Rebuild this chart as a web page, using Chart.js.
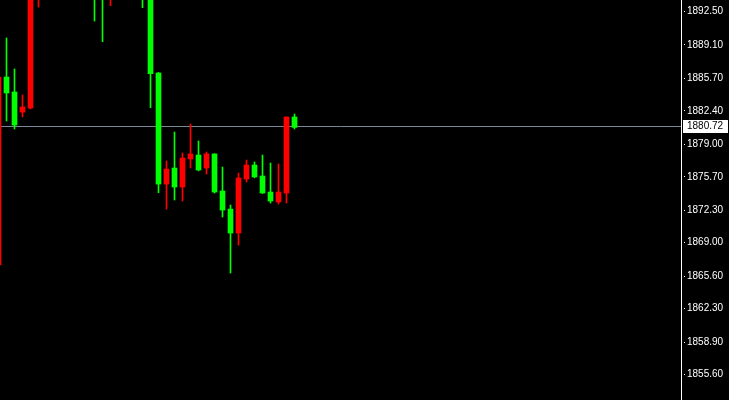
<!DOCTYPE html>
<html>
<head>
<meta charset="utf-8">
<script src="https://cdn.jsdelivr.net/npm/chart.js@4.4.1/dist/chart.umd.min.js"></script>
<style>
  html, body { margin: 0; padding: 0; background: #000; }
  #wrap { width: 729px; height: 400px; position: relative; }
</style>
</head>
<body>
<div id="wrap"><canvas id="candles"></canvas></div>
<script>
// bar index (slot) of each candle, OHLC; candles fully off screen are left out
const slots  = [-1, 0, 1, 2, 3, 4, 11, 12, 13, 17, 18, 19, 20, 21, 22, 23, 24, 25, 26, 27, 28, 29, 30, 31, 32, 33, 34, 35, 36];
const opens  = [1866.73, 1885.84, 1884.32, 1882.28, 1882.69, 1894.2, 1896.0, 1896.0, 1894.2, 1896.0, 1895.5, 1886.25,
                1874.96, 1876.59, 1874.66, 1877.51, 1877.91, 1876.59, 1878.02, 1874.25, 1872.42, 1869.98, 1875.47,
                1876.90, 1875.78, 1874.15, 1873.14, 1874.05, 1881.78];
const highs  = [1885.84, 1889.81, 1886.66, 1884.01, 1896.0, 1897.0, 1897.0, 1897.0, 1897.0, 1897.0, 1896.0, 1886.30,
                1877.30, 1880.25, 1878.12, 1881.06, 1879.34, 1878.22, 1878.05, 1876.69, 1872.83, 1876.08, 1877.40,
                1877.20, 1877.91, 1877.10, 1877.00, 1881.78, 1882.08];
const lows   = [1866.73, 1881.37, 1880.56, 1881.78, 1882.60, 1892.96, 1891.53, 1889.43, 1893.09, 1892.89, 1882.72, 1874.08,
                1872.42, 1873.34, 1873.24, 1876.59, 1876.30, 1875.98, 1874.05, 1871.61, 1865.92, 1868.76, 1875.17,
                1875.60, 1874.00, 1873.03, 1872.93, 1873.03, 1880.56];
const closes = [1885.84, 1884.22, 1880.96, 1882.79, 1895.5, 1895.8, 1894.5, 1894.2, 1895.6, 1894.5, 1886.18, 1874.96,
                1876.49, 1874.66, 1877.61, 1878.02, 1876.39, 1878.02, 1874.15, 1872.32, 1869.98, 1875.58, 1876.90,
                1875.68, 1874.05, 1873.24, 1874.15, 1881.78, 1880.72];

const priceTicks = [1892.50, 1889.10, 1885.70, 1882.40, 1879.00, 1875.70, 1872.30, 1869.00, 1865.60, 1862.30, 1858.90, 1855.60];
const currentPrice = 1880.72;

const UP = '#ff0000';
const DOWN = '#00ff00';
const candleColor = (i) => (closes[i] >= opens[i] ? UP : DOWN);

const bodies = slots.map((s, i) => ({ x: s, y: [opens[i], closes[i]] }));
const wicks = slots.map((s, i) => ({ x: s, y: [lows[i], highs[i]] }));

const priceLine = {
  id: 'priceLine',
  beforeDraw(chart) {
    const { ctx } = chart;
    ctx.save();
    ctx.fillStyle = '#000';
    ctx.fillRect(0, 0, chart.width, chart.height);
    ctx.restore();
  },
  beforeDatasetsDraw(chart) {
    const { ctx, chartArea } = chart;
    const y = Math.round(chart.scales.y.getPixelForValue(currentPrice)) - 0.5;
    ctx.save();
    ctx.strokeStyle = '#778899';
    ctx.lineWidth = 1;
    ctx.beginPath();
    ctx.moveTo(chartArea.left, y);
    ctx.lineTo(chartArea.right, y);
    ctx.stroke();
    ctx.restore();
  },
  afterDraw(chart) {
    const { ctx, chartArea } = chart;
    const y = Math.round(chart.scales.y.getPixelForValue(currentPrice));
    ctx.save();
    ctx.fillStyle = '#ffffff';
    ctx.fillRect(chartArea.right + 2, y - 7, 45, 13);
    ctx.fillStyle = '#000000';
    ctx.font = '10px "Liberation Sans", Arial, sans-serif';
    ctx.textBaseline = 'middle';
    ctx.fillText(currentPrice.toFixed(2), chartArea.right + 6, y - 0.5);
    ctx.restore();
  },
};

new Chart(document.getElementById('candles'), {
  type: 'bar',
  data: {
    datasets: [
      {
        data: bodies,
        backgroundColor: (c) => candleColor(c.dataIndex),
        barThickness: 5,
        grouped: false,
        borderWidth: 0,
        order: 0,
      },
      {
        data: wicks,
        backgroundColor: (c) => candleColor(c.dataIndex),
        barThickness: 1,
        grouped: false,
        borderWidth: 0,
        order: 1,
      },
    ],
  },
  options: {
    responsive: true,
    maintainAspectRatio: false,
    animation: false,
    layout: { padding: 0 },
    plugins: {
      legend: { display: false },
      tooltip: { enabled: false },
    },
    scales: {
      x: {
        type: 'linear',
        display: false,
        offset: false,
        min: -0.8125,
        max: 84.3125,
      },
      y: {
        position: 'right',
        min: 1853.01,
        max: 1893.67,
        afterBuildTicks: (axis) => {
          axis.ticks = priceTicks.map((v) => ({ value: v }));
        },
        afterFit: (axis) => {
          axis.width = 48;
          axis.paddingTop = 0;
          axis.paddingBottom = 0;
        },
        border: { display: true, color: '#ffffff', width: 1 },
        grid: {
          drawOnChartArea: false,
          drawTicks: true,
          tickLength: 4,
          tickColor: '#ffffff',
          tickBorderDash: [0, 2, 2, 10],
        },
        ticks: {
          color: '#ffffff',
          padding: 2,
          font: { family: "'Liberation Sans', Arial, sans-serif", size: 10 },
          callback: (v) => Number(v).toFixed(2),
        },
      },
    },
  },
  plugins: [priceLine],
});
</script>
</body>
</html>
